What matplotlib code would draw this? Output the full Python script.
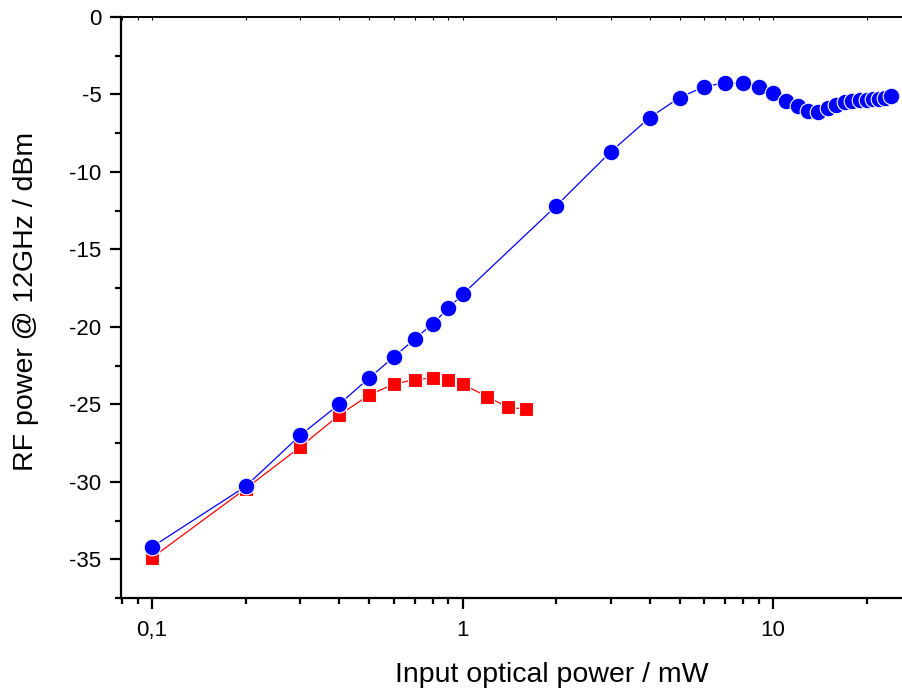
import numpy as np
import matplotlib
matplotlib.use("Agg")
import matplotlib.pyplot as plt
from matplotlib.ticker import FixedLocator, FuncFormatter, MultipleLocator, LogLocator

plt.rcParams['font.family'] = ['Liberation Sans', 'DejaVu Sans']
plt.rcParams['axes.unicode_minus'] = False

# blue circles: full power sweep
blue_x = [0.1, 0.2, 0.3, 0.4, 0.5, 0.6, 0.7, 0.8, 0.9, 1.0,
          2, 3, 4, 5, 6, 7, 8, 9, 10,
          11, 12, 13, 14, 15, 16, 17, 18, 19, 20, 21, 22, 23, 24]
blue_y = [-34.2, -30.3, -27.0, -25.0, -23.3, -21.95, -20.8, -19.8, -18.8, -17.9,
          -12.2, -8.7, -6.5, -5.2, -4.5, -4.24, -4.28, -4.52, -4.92,
          -5.4, -5.75, -6.05, -6.1, -5.9, -5.7, -5.5, -5.4, -5.35, -5.35, -5.3, -5.3, -5.2, -5.12]

# red squares
red_x = [0.1, 0.2, 0.3, 0.4, 0.5, 0.6, 0.7, 0.8, 0.9, 1.0, 1.2, 1.4, 1.6]
red_y = [-34.9, -30.45, -27.75, -25.7, -24.4, -23.7, -23.4, -23.3, -23.4, -23.7, -24.5, -25.2, -25.3]

x_ticks = [0.1, 1, 10]
x_tick_labels = ["0,1", "1", "10"]

fig = plt.figure(figsize=(9.03, 6.93), dpi=100)
ax = fig.add_axes([121 / 903, 1 - 598 / 693, 1 - 121 / 903, (598 - 17) / 693])

ax.plot(blue_x, blue_y, color='#0000ff', lw=0.9, marker='o', ms=12,
        mfc='#0000ff', mec='white', mew=0.8, zorder=3)
ax.plot(red_x, red_y, color='#ff0000', lw=0.9, marker='s', ms=10.5,
        mfc='#ff0000', mec='white', mew=0.8, zorder=2)

ax.set_xscale('log')
ax.set_xlim(0.0794, 26.2)
ax.set_ylim(-37.5, 0)

ax.xaxis.set_major_locator(FixedLocator(x_ticks))
ax.xaxis.set_major_formatter(FuncFormatter(lambda v, p: x_tick_labels[x_ticks.index(v)] if v in x_ticks else ""))
ax.xaxis.set_minor_locator(LogLocator(base=10, subs=np.arange(2, 10)))
ax.xaxis.set_minor_formatter(FuncFormatter(lambda v, p: ""))
ax.yaxis.set_major_locator(MultipleLocator(5))
ax.yaxis.set_minor_locator(MultipleLocator(2.5))

ax.spines['right'].set_visible(False)
ax.spines['left'].set_linewidth(1.6)
ax.spines['bottom'].set_linewidth(1.6)
ax.spines['top'].set_linewidth(1.2)

ax.tick_params(which='major', direction='out', length=8, width=1.6, labelsize=16, pad=6)
ax.tick_params(which='minor', direction='out', length=4, width=1.6)
ax.tick_params(axis='x', which='major', pad=8)

# top axis with small inward ticks
top = ax.twiny()
top.set_xscale('log')
top.set_xlim(ax.get_xlim())
top.xaxis.set_major_locator(FixedLocator(x_ticks))
top.xaxis.set_minor_locator(LogLocator(base=10, subs=np.arange(2, 10)))
top.tick_params(which='both', direction='in', length=2.5, width=0.8, labeltop=False)
top.xaxis.set_minor_formatter(FuncFormatter(lambda v, p: ""))
top.xaxis.set_major_formatter(FuncFormatter(lambda v, p: ""))
for s in ['right', 'left', 'bottom']:
    top.spines[s].set_visible(False)
top.spines['top'].set_linewidth(1.2)

ax.set_xlabel("Input optical power / mW", fontsize=20.5)
ax.xaxis.set_label_coords((552 - 121) / 782, -0.111)
ax.set_ylabel("RF power @ 12GHz / dBm", fontsize=20.5)
ax.yaxis.set_label_coords(-0.105, (598 - 301) / 581)

fig.savefig("out.png", dpi=100)
